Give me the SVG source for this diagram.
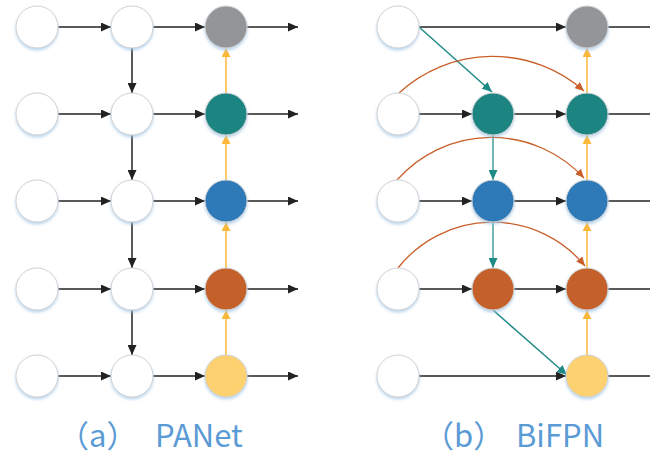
<svg xmlns="http://www.w3.org/2000/svg" width="650" height="454" viewBox="0 0 650 454">
<style>
.n{stroke:#d2d2d2;stroke-width:1;filter:url(#sh)}
.w{fill:#ffffff}
.g{fill:#939598}
.t{fill:#1e8581}
.b{fill:#2e79b8}
.o{fill:#c4602b}
.y{fill:#fdd06f}
.k{stroke:#222222;stroke-width:1.5;fill:none}
.kn{stroke:#222222;stroke-width:1.5;fill:none;marker-end:url(#ak)}
.yl{stroke:#fbb83a;stroke-width:1.5;fill:none;marker-end:url(#ay)}
.td{stroke:#1e8a86;stroke-width:1.5;fill:none;marker-end:url(#at)}
.tv{stroke:#64afab;stroke-width:1.8;fill:none;marker-end:url(#at)}
.ar{stroke:#c9602a;stroke-width:1.3;fill:none;marker-end:url(#ao)}
.lbl{font-family:"Noto Sans CJK SC","Noto Sans",sans-serif;font-size:31px;fill:#5b9bd5}
</style>
<defs>
<filter id="sh" x="-30%" y="-30%" width="160%" height="170%">
<feDropShadow dx="0" dy="2" stdDeviation="1.5" flood-color="#9dc3e6" flood-opacity="0.7"/>
</filter>
<marker id="ak" markerUnits="userSpaceOnUse" markerWidth="10" markerHeight="9" refX="10" refY="4.5" orient="auto"><path d="M0,0 L10,4.5 L0,9 z" fill="#222222"/></marker>
<marker id="ay" markerUnits="userSpaceOnUse" markerWidth="9" markerHeight="9" refX="9" refY="4.5" orient="auto"><path d="M0,0 L9,4.5 L0,9 z" fill="#fbb83a"/></marker>
<marker id="at" markerUnits="userSpaceOnUse" markerWidth="10" markerHeight="9" refX="10" refY="4.5" orient="auto"><path d="M0,0 L10,4.5 L0,9 z" fill="#1e8a86"/></marker>
<marker id="ao" markerUnits="userSpaceOnUse" markerWidth="9" markerHeight="8" refX="9" refY="4" orient="auto"><path d="M0,0 L9,4 L0,8 z" fill="#c9602a"/></marker>
</defs>

<g id="connectors">
<line class="kn" x1="58" y1="27" x2="111" y2="27"/>
<line class="kn" x1="153" y1="27" x2="205" y2="27"/>
<line class="kn" x1="247" y1="27" x2="298" y2="27"/>
<line class="kn" x1="58" y1="114" x2="111" y2="114"/>
<line class="kn" x1="153" y1="114" x2="205" y2="114"/>
<line class="kn" x1="247" y1="114" x2="298" y2="114"/>
<line class="kn" x1="58" y1="201" x2="111" y2="201"/>
<line class="kn" x1="153" y1="201" x2="205" y2="201"/>
<line class="kn" x1="247" y1="201" x2="298" y2="201"/>
<line class="kn" x1="58" y1="289" x2="111" y2="289"/>
<line class="kn" x1="153" y1="289" x2="205" y2="289"/>
<line class="kn" x1="247" y1="289" x2="298" y2="289"/>
<line class="kn" x1="58" y1="376" x2="111" y2="376"/>
<line class="kn" x1="153" y1="376" x2="205" y2="376"/>
<line class="kn" x1="247" y1="376" x2="298" y2="376"/>
<line class="kn" x1="132" y1="48" x2="132" y2="93"/>
<line class="kn" x1="132" y1="135" x2="132" y2="180"/>
<line class="kn" x1="132" y1="222" x2="132" y2="268"/>
<line class="kn" x1="132" y1="310" x2="132" y2="355"/>
<line class="yl" x1="226" y1="355" x2="226" y2="310"/>
<line class="yl" x1="226" y1="268" x2="226" y2="222"/>
<line class="yl" x1="226" y1="180" x2="226" y2="135"/>
<line class="yl" x1="226" y1="93" x2="226" y2="48"/>

<line class="kn" x1="419" y1="27" x2="566" y2="27"/>
<line class="k" x1="608" y1="27" x2="650" y2="27"/>
<line class="kn" x1="419" y1="114" x2="472" y2="114"/>
<line class="kn" x1="514" y1="114" x2="566" y2="114"/>
<line class="k" x1="608" y1="114" x2="650" y2="114"/>
<line class="kn" x1="419" y1="201" x2="472" y2="201"/>
<line class="kn" x1="514" y1="201" x2="566" y2="201"/>
<line class="k" x1="608" y1="201" x2="650" y2="201"/>
<line class="kn" x1="419" y1="289" x2="472" y2="289"/>
<line class="kn" x1="514" y1="289" x2="566" y2="289"/>
<line class="k" x1="608" y1="289" x2="650" y2="289"/>
<line class="kn" x1="419" y1="376" x2="566" y2="376"/>
<line class="k" x1="608" y1="376" x2="650" y2="376"/>
<line class="td" x1="419" y1="27" x2="492" y2="92"/>
<line class="tv" x1="493" y1="135" x2="493" y2="180"/>
<line class="tv" x1="493" y1="222" x2="493" y2="268"/>
<line class="td" x1="493" y1="310" x2="567" y2="375"/>
<path class="ar" d="M399,93 A138,138 0 0 1 584,91"/>
<path class="ar" d="M397,180 A126,126 0 0 1 584,178"/>
<path class="ar" d="M398,268 A120,120 0 0 1 585,266"/>
<line class="yl" x1="587" y1="355" x2="587" y2="310"/>
<line class="yl" x1="587" y1="268" x2="587" y2="222"/>
<line class="yl" x1="587" y1="180" x2="587" y2="135"/>
<line class="yl" x1="587" y1="93" x2="587" y2="48"/>
</g>

<g id="panet-c1-r1"><circle class="n w" cx="37" cy="27" r="21"/></g>
<g id="panet-c2-r1"><circle class="n w" cx="132" cy="27" r="21"/></g>
<g id="panet-c3-r1"><circle class="n g" cx="226" cy="27" r="21"/></g>
<g id="panet-c1-r2"><circle class="n w" cx="37" cy="114" r="21"/></g>
<g id="panet-c2-r2"><circle class="n w" cx="132" cy="114" r="21"/></g>
<g id="panet-c3-r2"><circle class="n t" cx="226" cy="114" r="21"/></g>
<g id="panet-c1-r3"><circle class="n w" cx="37" cy="201" r="21"/></g>
<g id="panet-c2-r3"><circle class="n w" cx="132" cy="201" r="21"/></g>
<g id="panet-c3-r3"><circle class="n b" cx="226" cy="201" r="21"/></g>
<g id="panet-c1-r4"><circle class="n w" cx="37" cy="289" r="21"/></g>
<g id="panet-c2-r4"><circle class="n w" cx="132" cy="289" r="21"/></g>
<g id="panet-c3-r4"><circle class="n o" cx="226" cy="289" r="21"/></g>
<g id="panet-c1-r5"><circle class="n w" cx="37" cy="376" r="21"/></g>
<g id="panet-c2-r5"><circle class="n w" cx="132" cy="376" r="21"/></g>
<g id="panet-c3-r5"><circle class="n y" cx="226" cy="376" r="21"/></g>

<g id="bifpn-c1-r1"><circle class="n w" cx="398" cy="27" r="21"/></g>
<g id="bifpn-c3-r1"><circle class="n g" cx="587" cy="27" r="21"/></g>
<g id="bifpn-c1-r2"><circle class="n w" cx="398" cy="114" r="21"/></g>
<g id="bifpn-c2-r2"><circle class="n t" cx="493" cy="114" r="21"/></g>
<g id="bifpn-c3-r2"><circle class="n t" cx="587" cy="114" r="21"/></g>
<g id="bifpn-c1-r3"><circle class="n w" cx="398" cy="201" r="21"/></g>
<g id="bifpn-c2-r3"><circle class="n b" cx="493" cy="201" r="21"/></g>
<g id="bifpn-c3-r3"><circle class="n b" cx="587" cy="201" r="21"/></g>
<g id="bifpn-c1-r4"><circle class="n w" cx="398" cy="289" r="21"/></g>
<g id="bifpn-c2-r4"><circle class="n o" cx="493" cy="289" r="21"/></g>
<g id="bifpn-c3-r4"><circle class="n o" cx="587" cy="289" r="21"/></g>
<g id="bifpn-c1-r5"><circle class="n w" cx="398" cy="376" r="21"/></g>
<g id="bifpn-c3-r5"><circle class="n y" cx="587" cy="376" r="21"/></g>

<g id="label-a"><text class="lbl" x="58" y="447">（a）<tspan x="155">PANet</tspan></text></g>
<g id="label-b"><text class="lbl" x="423" y="447">（b）<tspan x="516">BiFPN</tspan></text></g>
</svg>
